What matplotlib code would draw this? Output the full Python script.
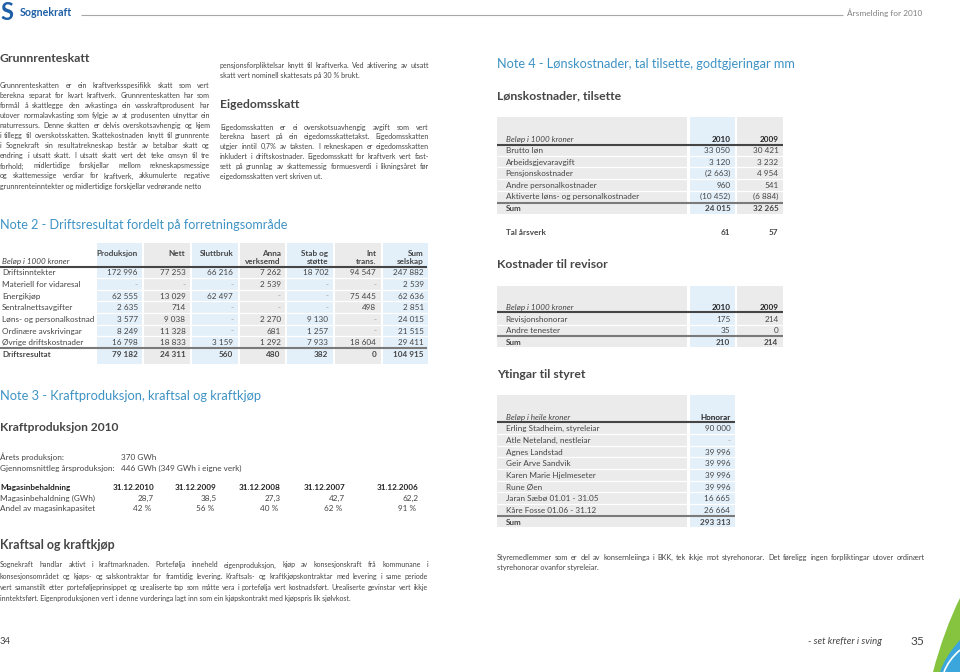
import matplotlib.pyplot as plt
from matplotlib.patches import Rectangle, PathPatch
from matplotlib.path import Path

plt.rcParams['font.family'] = ['Lato', 'DejaVu Sans']

# ---- data ----
n2_cols = ['Produksjon', 'Nett', 'Sluttbruk', 'Anna\nverksemd', 'Stab og\nstøtte', 'Int\ntrans.', 'Sum\nselskap']
n2_rows = ['Driftsinntekter', 'Materiell for vidaresal', 'Energikjøp', 'Sentralnettsavgifter',
           'Løns- og personalkostnad', 'Ordinære avskrivingar', 'Øvrige driftskostnader']
n2_values = [
    [172996, 77253, 66216, 7262, 18702, 94547, 247882],
    [None, None, None, 2539, None, None, 2539],
    [62555, 13029, 62497, None, None, 75445, 62636],
    [2635, 714, None, None, None, 498, 2851],
    [3577, 9038, None, 2270, 9130, None, 24015],
    [8249, 11328, None, 681, 1257, None, 21515],
    [16798, 18833, 3159, 1292, 7933, 18604, 29411],
]
n2_total = [79182, 24311, 560, 480, 382, 0, 104915]

mag_dates = ['31.12.2010', '31.12.2009', '31.12.2008', '31.12.2007', '31.12.2006']
mag_gwh = [28.7, 38.5, 27.3, 42.7, 62.2]
mag_pct = [42, 56, 40, 62, 91]

lonn_rows = ['Brutto løn', 'Arbeidsgjevaravgift', 'Pensjonskostnader', 'Andre personalkostnader',
             'Aktiverte løns- og personalkostnader']
lonn_2010 = [33050, 3120, -2663, 960, -10452]
lonn_2009 = [30421, 3232, 4954, 541, -6884]
lonn_sum = [24015, 32265]
aarsverk = [61, 57]

rev_rows = ['Revisjonshonorar', 'Andre tenester']
rev_2010 = [175, 35]
rev_2009 = [214, 0]
rev_sum = [210, 214]

styre_rows = ['Erling Stadheim, styreleiar', 'Atle Neteland, nestleiar', 'Agnes Landstad', 'Geir Arve Sandvik',
              'Karen Marie Hjelmeseter', 'Rune Øen', 'Jaran Sæbø 01.01 - 31.05', 'Kåre Fosse 01.06 - 31.12']
styre_honorar = [90000, None, 39996, 39996, 39996, 39996, 16665, 26664]
styre_sum = 293313

txt_grunnrente = [
    'Grunnrenteskatten er ein kraftverksspesifikk skatt som vert',
    'berekna separat for kvart kraftverk. Grunnrenteskatten har som',
    'formål å skattlegge den avkastinga ein vasskraftprodusent har',
    'utover normalavkasting som fylgje av at produsenten utnyttar ein',
    'naturressurs. Denne skatten er delvis overskotsavhengig og kjem',
    'i tillegg til overskotsskatten. Skattekostnaden knytt til grunnrente',
    'i Sognekraft sin resultatrekneskap består av betalbar skatt og',
    'endring i utsatt skatt. I utsatt skatt vert det teke omsyn til tre',
    'forhold; midlertidige forskjellar mellom rekneskapsmessige',
    'og skattemessige verdiar for kraftverk, akkumulerte negative',
    'grunnrenteinntekter og midlertidige forskjellar vedrørande netto',
]
txt_pensjon = [
    'pensjonsforpliktelsar knytt til kraftverka. Ved aktivering av utsatt',
    'skatt vert nominell skattesats på 30 % brukt.',
]
txt_eigedom = [
    'Eigedomsskatten er ei overskotsuavhengig avgift som vert',
    'berekna basert på ein eigedomsskattetakst. Eigedomsskatten',
    'utgjer inntil 0,7% av taksten. I rekneskapen er eigedomsskatten',
    'inkludert i driftskostnader. Eigedomsskatt for kraftverk vert fast-',
    'sett på grunnlag av skattemessig formuesverdi i likningsåret før',
    'eigedomsskatten vert skriven ut.',
]
txt_kraftsal = [
    'Sognekraft handlar aktivt i kraftmarknaden. Portefølja inneheld eigenproduksjon, kjøp av konsesjonskraft frå kommunane i',
    'konsesjonsområdet og kjøps- og salskontraktar for framtidig levering. Kraftsals- og kraftkjøpskontraktar med levering i same periode',
    'vert samanstilt etter porteføljeprinsippet og urealiserte tap som måtte vera i portefølja vert kostnadsført. Urealiserte gevinstar vert ikkje',
    'inntektsført. Eigenproduksjonen vert i denne vurderinga lagt inn som ein kjøpskontrakt med kjøpspris lik sjølvkost.',
]
txt_styre = [
    'Styremedlemmer som er del av konsernleiinga i BKK, tek ikkje mot styrehonorar. Det føreligg ingen forpliktingar utover ordinært',
    'styrehonorar ovanfor styreleiar.',
]

# ---- style ----
TXT = '#454545'
HEAD = '#464646'
DARK = '#222222'
TEAL = '#3f93c4'
LOGO = '#1f5fa6'
BLUE_BAND = '#e3f0fa'
GRAY_BAND = '#ebebeb'
DASH = '#a0a0a0'

fig = plt.figure(figsize=(9.6, 6.72), dpi=100)
ax = fig.add_axes([0, 0, 1, 1])
ax.set_xlim(0, 960)
ax.set_ylim(672, 0)
ax.axis('off')
r = fig.canvas.get_renderer()


def width_of(t):
    return t.get_window_extent(renderer=r).width


def put(x, y, s, size, **kw):
    # y is the middle of the capital letters; place on the baseline
    kw.setdefault('color', TXT)
    return ax.text(x, y + 0.358 * size / 0.72, s, fontsize=size, va='baseline', **kw)


def fit(x, y, s, w, ha='left', **kw):
    t = ax.text(x, y, s, fontsize=10, ha=ha, **kw)
    size = 10 * w / width_of(t)
    t.remove()
    put(x, y, s, size, ha=ha, **kw)
    return size


def para(x0, x1, y0, lh, lines, size=None):
    # justified paragraph, one text per word
    if size is None:
        probes = [ax.text(0, 0, ln, fontsize=10) for ln in lines[:-1]]
        ratio = max(width_of(p) for p in probes) / (x1 - x0)
        for p in probes:
            p.remove()
        size = 10 / ratio * 0.97
    for i, ln in enumerate(lines):
        y = y0 + i * lh
        if i == len(lines) - 1:
            put(x0, y, ln, size)
            continue
        words = ln.split(' ')
        objs = [put(x0, y, w, size) for w in words]
        ws = [width_of(o) for o in objs]
        gap = (x1 - x0 - sum(ws)) / (len(words) - 1)
        x = x0
        for o, w in zip(objs, ws):
            o.set_x(x)
            x += w + gap
    return size


def fmt(v):
    if v is None:
        return '-'
    s = f'{abs(v):,}'.replace(',', ' ')
    return f'({s})' if v < 0 else s


def num(x, y, v, size, bold=False):
    s = fmt(v)
    put(x, y, s, size, ha='right', color=DASH if s == '-' else TXT,
        weight='bold' if bold else 'normal')


# ---- header ----
fit(0, 12, 'S', 13, weight='bold', color=LOGO)
fit(20, 12.5, 'Sognekraft', 52, weight='bold', color=LOGO)
ax.hlines(15.3, 81, 843, color='#a8a8a8', lw=0.8)
fit(847, 13, 'Årsmelding for 2010', 75, color='#808080')

# ---- left / middle text ----
fit(0, 58, 'Grunnrenteskatt', 91, weight='bold', color=HEAD)
body = para(0, 210, 85.5, 10.05, txt_grunnrente)
para(220, 429, 65, 10, txt_pensjon, size=body)
fit(220, 104, 'Eigedomsskatt', 79, weight='bold', color=HEAD)
para(220, 429, 127, 9.8, txt_eigedom, size=body)

# table font size from widest label
probe = ax.text(0, 0, 'Løns- og personalkostnad', fontsize=10)
TS = 10 * 92 / width_of(probe)
probe.remove()

# ---- Note 2 ----
fit(0, 224, 'Note 2 - Driftsresultat fordelt på forretningsområde', 287, color=TEAL)
bx0, pitch, bw = 96.7, 47.67, 45.7
for j in range(len(n2_cols)):
    ax.add_patch(Rectangle((bx0 + j * pitch, 243), bw, 121, lw=0,
                           color=BLUE_BAND if j % 2 == 0 else GRAY_BAND))
ax.hlines([278.1 + 11.67 * i for i in range(6)], 96, 428, color='white', lw=0.9)
ax.hlines(266.6, 0, 427.4, color='#454545', lw=1.5)
ax.hlines(348.2, 0, 427.4, color='#7a7a7a', lw=1.5)
put(2, 261, 'Beløp i 1000 kroner', TS, style='italic')
for j, col in enumerate(n2_cols):
    xr = bx0 + j * pitch + bw - 4.6
    for k, part in enumerate(col.split('\n')):
        put(xr, 253.5 + 7.6 * k, part, TS, weight='bold', ha='right', color=HEAD)
    for i in range(len(n2_rows)):
        num(xr, 272.3 + 11.67 * i, n2_values[i][j], TS)
    num(xr, 354, n2_total[j], TS, bold=True)
for i, lab in enumerate(n2_rows):
    put(2, 272.3 + 11.67 * i, lab, TS)
put(2, 354, 'Driftsresultat', TS, weight='bold', color=HEAD)

# ---- Note 3 ----
fit(0, 395, 'Note 3 - Kraftproduksjon, kraftsal og kraftkjøp', 262, color=TEAL)
fit(0, 427, 'Kraftproduksjon 2010', 119, weight='bold', color=HEAD)
put(0, 457.3, 'Årets produksjon:', TS)
put(120.7, 457.3, '370 GWh', TS)
put(0, 468.3, 'Gjennomsnittleg årsproduksjon:', TS)
put(120.7, 468.3, '446 GWh (349 GWh i eigne verk)', TS)
mag_x = [154, 216.7, 281, 345, 418.3]
put(0, 487.3, 'Magasinbehaldning', TS, weight='bold', color=DARK)
put(0, 498.3, 'Magasinbehaldning (GWh)', TS)
put(0, 507.8, 'Andel av magasinkapasitet', TS)
for xr, d, g, p in zip(mag_x, mag_dates, mag_gwh, mag_pct):
    put(xr, 487.3, d, TS, weight='bold', ha='right', color=DARK)
    put(xr, 498.3, f'{g:.1f}'.replace('.', ','), TS, ha='right')
    put(xr - 2.5, 507.8, f'{p} %', TS, ha='right')

fit(0, 545, 'Kraftsal og kraftkjøp', 115, weight='bold', color=HEAD)
para(0, 428, 565, 11.1, txt_kraftsal)

# ---- Note 4 ----
fit(497, 63.5, 'Note 4 - Lønskostnader, tal tilsette, godtgjeringar mm', 300, color=TEAL)
fit(497, 95, 'Lønskostnader, tilsette', 124.5, weight='bold', color=HEAD)

LX = 505.5
C1, C2 = 730.3, 778.4


def bands(y0, y1, two=True):
    ax.add_patch(Rectangle((497.3, y0), 189.4, y1 - y0, lw=0, color=GRAY_BAND))
    ax.add_patch(Rectangle((690, y0), 45.3, y1 - y0, lw=0, color=BLUE_BAND))
    if two:
        ax.add_patch(Rectangle((737.4, y0), 45.4, y1 - y0, lw=0, color=GRAY_BAND))


# lønskostnader
bands(117.3, 214)
right = 782.8
ax.hlines([155.8 + 11.6 * i for i in range(4)], 497.3, right, color='white', lw=0.9)
ax.hlines(144.5, 497.3, right, color='#454545', lw=1.5)
ax.hlines(202.6, 497.3, right, color='#7a7a7a', lw=1.5)
put(LX, 139, 'Beløp i 1000 kroner', TS, style='italic')
put(C1, 139, '2010', TS, weight='bold', ha='right', color=DARK)
put(C2, 139, '2009', TS, weight='bold', ha='right', color=DARK)
for i, lab in enumerate(lonn_rows):
    y = 150 + 11.6 * i
    put(LX, y, lab, TS)
    num(C1, y, lonn_2010[i], TS)
    num(C2, y, lonn_2009[i], TS)
put(LX, 208.3, 'Sum', TS, weight='bold', color=HEAD)
num(C1, 208.3, lonn_sum[0], TS, bold=True)
num(C2, 208.3, lonn_sum[1], TS, bold=True)
put(LX, 232.3, 'Tal årsverk', TS, weight='bold', color=HEAD)
num(C1, 232.3, aarsverk[0], TS, bold=True)
num(C2, 232.3, aarsverk[1], TS, bold=True)

# revisor
sub = fit(497, 264, 'Kostnader til revisor', 112, weight='bold', color=HEAD)
bands(285.7, 347.3)
ax.hlines(324.8, 497.3, right, color='white', lw=0.9)
ax.hlines(311.8, 497.3, right, color='#454545', lw=1.5)
ax.hlines(335.8, 497.3, right, color='#7a7a7a', lw=1.5)
put(LX, 306.7, 'Beløp i 1000 kroner', TS, style='italic')
put(C1, 306.7, '2010', TS, weight='bold', ha='right', color=DARK)
put(C2, 306.7, '2009', TS, weight='bold', ha='right', color=DARK)
for i, lab in enumerate(rev_rows):
    y = 319 + 11.5 * i
    put(LX, y, lab, TS)
    num(C1, y, rev_2010[i], TS)
    num(C2, y, rev_2009[i], TS)
put(LX, 341.7, 'Sum', TS, weight='bold', color=HEAD)
num(C1, 341.7, rev_sum[0], TS, bold=True)
num(C2, 341.7, rev_sum[1], TS, bold=True)

# styret
put(497, 373.5, 'Ytingar til styret', sub, weight='bold', color=HEAD)
bands(395, 527.3, two=False)
ax.hlines([434.1 + 11.67 * i for i in range(7)], 497.3, 735.3, color='white', lw=0.9)
ax.hlines(421.8, 497.3, 735.3, color='#454545', lw=1.5)
ax.hlines(515.8, 497.3, 735.3, color='#7a7a7a', lw=1.5)
put(LX, 416.7, 'Beløp i heile kroner', TS, style='italic')
put(C1, 416.7, 'Honorar', TS, weight='bold', ha='right', color=DARK)
for i, lab in enumerate(styre_rows):
    y = 428.3 + 11.67 * i
    put(LX, y, lab, TS)
    num(C1, y, styre_honorar[i], TS)
put(LX, 521.7, 'Sum', TS, weight='bold', color=HEAD)
num(C1, 521.7, styre_sum, TS, bold=True)

para(497, 925, 557.5, 10, txt_styre)

# ---- footer ----
fit(0, 641, '34', 11, color=HEAD)
fit(882, 641, '- set krefter i sving', 74, ha='right', style='italic', color=TXT)
fit(924, 641, '35', 14, ha='right', color=HEAD)

# corner swoosh
green = Path([(960, 598), (950, 618), (940, 645), (933, 672), (960, 672), (960, 598)],
             [Path.MOVETO, Path.CURVE4, Path.CURVE4, Path.CURVE4, Path.LINETO, Path.CLOSEPOLY])
ax.add_patch(PathPatch(green, facecolor='#86c440', lw=0))
blue = Path([(960, 640), (951, 650), (944, 660), (940, 672), (960, 672), (960, 640)],
            [Path.MOVETO, Path.CURVE4, Path.CURVE4, Path.CURVE4, Path.LINETO, Path.CLOSEPOLY])
ax.add_patch(PathPatch(blue, facecolor='#3aa6dc', lw=0))
stripe = Path([(960, 650), (952, 657), (947, 664), (944, 672)],
              [Path.MOVETO, Path.CURVE4, Path.CURVE4, Path.CURVE4])
ax.add_patch(PathPatch(stripe, facecolor='none', edgecolor='white', lw=1.2))

fig.savefig('out.png', dpi=100)
